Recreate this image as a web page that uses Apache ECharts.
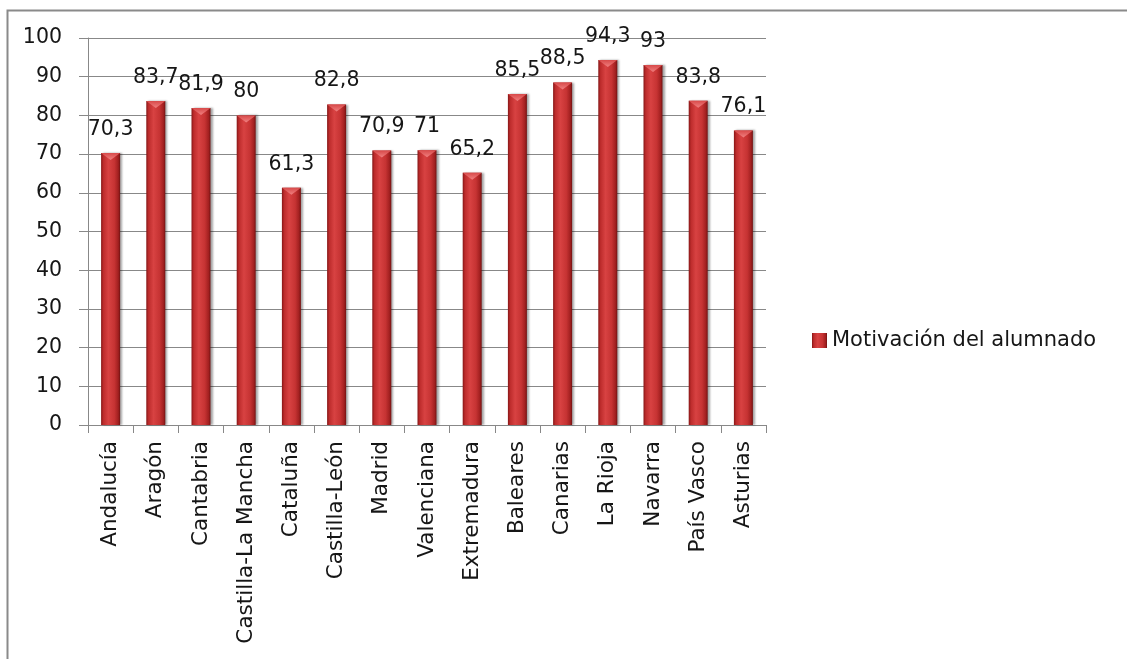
<!DOCTYPE html>
<html>
<head>
<meta charset="utf-8">
<script src="https://cdn.jsdelivr.net/npm/echarts@6/dist/echarts.min.js"></script>
<style>
html,body{margin:0;padding:0;background:#fff;}
#chart{width:1127px;height:659px;}
</style>
</head>
<body>
<div id="chart"></div>
<script>
const categories = ['Andalucía','Aragón','Cantabria','Castilla-La Mancha','Cataluña','Castilla-León','Madrid','Valenciana','Extremadura','Baleares','Canarias','La Rioja','Navarra','País Vasco','Asturias'];
const motivacion = [70.3, 83.7, 81.9, 80, 61.3, 82.8, 70.9, 71, 65.2, 85.5, 88.5, 94.3, 93, 83.8, 76.1];
const seriesName = 'Motivación del alumnado';
const yTicks = [0,10,20,30,40,50,60,70,80,90,100];

const FONT = 'DejaVu Sans';
const TXT = '#161616';
const chart = echarts.init(document.getElementById('chart'), null, {renderer:'canvas'});

const barGrad = new echarts.graphic.LinearGradient(0,0,1,0,[
  {offset:0, color:'#861616'},
  {offset:0.12, color:'#bd2c2c'},
  {offset:0.38, color:'#d84242'},
  {offset:0.7, color:'#c63333'},
  {offset:0.9, color:'#a22020'},
  {offset:1, color:'#721212'}
]);
const capGrad = new echarts.graphic.LinearGradient(0,0,0,1,[
  {offset:0, color:'#f08080'},
  {offset:1, color:'#d84a4a'}
]);

chart.setOption({
  animation:false,
  backgroundColor:'#fff',
  graphic:[{
    type:'rect', left:5, top:8, shape:{x:0,y:0,width:1130,height:660},
    style:{fill:'none', stroke:'#8a8a8a', lineWidth:2}, silent:true, z:-1
  }],
  grid:{left:88, right:361, top:38, bottom:234, containLabel:false},
  legend:{
    data:[seriesName], left:807, top:325, itemWidth:15, itemHeight:15, itemGap:10,
    icon:'rect',
    textStyle:{fontFamily:FONT, fontSize:21, color:TXT}
  },
  xAxis:{
    type:'category', data:categories,
    axisLine:{lineStyle:{color:'#888', width:1}},
    axisTick:{show:true, length:8, lineStyle:{color:'#888'}},
    axisLabel:{rotate:90, margin:16, fontFamily:FONT, fontSize:21.5, color:TXT, interval:0}
  },
  yAxis:{
    type:'value', min:yTicks[0], max:yTicks[yTicks.length-1], interval:10,
    axisLine:{show:true, lineStyle:{color:'#888', width:1}},
    axisTick:{show:true, length:9, lineStyle:{color:'#888'}},
    splitLine:{show:true, lineStyle:{color:'#888', width:1}},
    axisLabel:{margin:26, fontFamily:FONT, fontSize:20.5, color:TXT}
  },
  series:[
    {
      name:seriesName, type:'bar', data:motivacion, barWidth:19,
      itemStyle:{color:barGrad, shadowColor:'rgba(0,0,0,0.35)', shadowBlur:2, shadowOffsetX:2},
      label:{show:true, position:'top', distance:13, fontFamily:FONT, fontSize:20.5, color:TXT,
        formatter:p => String(p.value).replace('.', ',')}
    },
    {
      name:'cap', type:'pictorialBar', data:motivacion, symbol:'triangle', symbolRotate:180,
      symbolSize:[19,7], symbolPosition:'end', symbolOffset:[0,0], z:5,
      itemStyle:{color:capGrad}, silent:true, legendHoverLink:false
    }
  ]
});
</script>
</body>
</html>
